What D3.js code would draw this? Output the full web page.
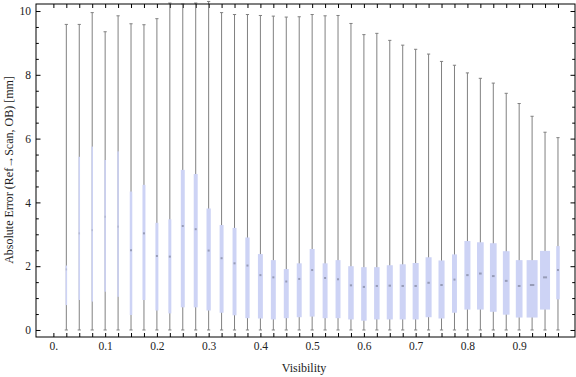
<!DOCTYPE html>
<html>
<head>
<meta charset="utf-8">
<script src="https://cdn.jsdelivr.net/npm/d3@7"></script>
<style>
  html, body { margin: 0; padding: 0; background: #fff; }
  svg { display: block; }
  text { font-family: "Liberation Serif", "Times New Roman", serif; fill: #222; }
</style>
</head>
<body>
<div id="chart"></div>
<script>
/* global d3 */

// visibility bins (box centres)
const visibility = [
  0.025, 0.05, 0.075, 0.1, 0.125, 0.15, 0.175, 0.2, 0.225, 0.25,
  0.275, 0.3, 0.325, 0.35, 0.375, 0.4, 0.425, 0.45, 0.475, 0.5,
  0.525, 0.55, 0.575, 0.6, 0.625, 0.65, 0.675, 0.7, 0.725, 0.75,
  0.775, 0.8, 0.825, 0.85, 0.875, 0.9, 0.925, 0.95, 0.975,
];
const minErr = [
  0, 0, 0, 0, 0, 0, 0, 0, 0, 0,
  0, 0, 0, 0, 0, 0, 0, 0, 0, 0,
  0, 0, 0, 0, 0, 0, 0, 0, 0, 0,
  0, 0, 0, 0, 0, 0, 0, 0, 0,
];
const q1Err = [
  0.78, 0.94, 0.89, 1.2, 1.04, 0.47, 0.94, 0.61, 0.52, 0.71,
  0.71, 0.61, 0.54, 0.46, 0.37, 0.36, 0.33, 0.37, 0.4, 0.42,
  0.37, 0.37, 0.33, 0.29, 0.33, 0.33, 0.33, 0.33, 0.4, 0.36,
  0.54, 0.64, 0.64, 0.57, 0.48, 0.39, 0.39, 0.64, 0.96,
];
const medianErr = [
  1.9, 3.03, 3.13, 3.55, 3.24, 2.5, 3.03, 2.32, 2.3, 3.26,
  3.16, 2.49, 2.25, 2.09, 2.02, 1.72, 1.65, 1.52, 1.6, 1.88,
  1.63, 1.59, 1.4, 1.35, 1.38, 1.39, 1.38, 1.38, 1.48, 1.41,
  1.58, 1.72, 1.77, 1.69, 1.54, 1.38, 1.41, 1.65, 1.88,
];
const q3Err = [
  2.02, 5.43, 5.75, 5.33, 5.6, 4.34, 4.55, 3.36, 3.47, 5.02,
  4.89, 3.81, 3.29, 3.2, 2.9, 2.38, 2.19, 1.91, 2.09, 2.54,
  2.09, 2.19, 2.0, 1.97, 1.97, 2.03, 2.06, 2.1, 2.28, 2.18,
  2.37, 2.79, 2.75, 2.72, 2.47, 2.19, 2.19, 2.48, 2.63,
];
const maxErr = [
  9.58, 9.58, 9.95, 9.35, 9.85, 9.6, 9.57, 9.76, 10.25, 10.22,
  10.25, 10.3, 9.95, 9.89, 9.89, 9.86, 9.84, 9.81, 9.82, 9.89,
  9.85, 9.86, 9.61, 9.26, 9.3, 9.08, 8.93, 8.8, 8.65, 8.42,
  8.3, 8.06, 7.89, 7.74, 7.42, 7.1, 6.7, 6.2, 6.03,
];
// relative box width (sample weight)
const boxWeight = [
  0.14, 0.14, 0.14, 0.14, 0.14, 0.23, 0.27, 0.27, 0.27, 0.36,
  0.36, 0.39, 0.36, 0.36, 0.39, 0.45, 0.45, 0.45, 0.45, 0.45,
  0.45, 0.45, 0.5, 0.5, 0.5, 0.55, 0.55, 0.55, 0.55, 0.55,
  0.45, 0.55, 0.61, 0.61, 0.61, 0.61, 1.0, 0.91, 0.32,
];

const xTicks = visibility.slice();
xTicks.unshift(0);
const xLabelTicks = [0, 0.1, 0.2, 0.3, 0.4, 0.5, 0.6, 0.7, 0.8, 0.9];
const yMajorTicks = [0, 2, 4, 6, 8, 10];
const yMinorTicks = [
  0.5, 1, 1.5, 2.5, 3, 3.5, 4.5, 5, 5.5, 6.5, 7, 7.5, 8.5, 9, 9.5,
];

const width = 576;
const height = 377;
const frame = { left: 36, right: 575, top: 4, bottom: 337 };

const svg = d3.select('#chart').append('svg')
  .attr('width', width)
  .attr('height', height);

const x = d3.scaleLinear()
  .domain([-0.0336, 1.0079])
  .range([frame.left, frame.right]);
const y = d3.scaleLinear()
  .domain([-0.22, 10.22])
  .range([frame.bottom, frame.top]);
const w = d3.scaleLinear()
  .domain([0, 1])
  .range([0, 11]);

const rows = visibility.map((v, i) => ({
  v,
  min: minErr[i],
  q1: q1Err[i],
  med: medianErr[i],
  q3: q3Err[i],
  max: maxErr[i],
  wt: boxWeight[i],
}));

// axes (ticks point inwards)
const fmtX = (d) => {
  if (!xLabelTicks.some(t => Math.abs(t - d) < 1e-9)) return '';
  return d === 0 ? '0.' : d3.format('.1f')(d);
};

const bottom = svg.append('g')
  .attr('transform', `translate(0,${frame.bottom})`)
  .call(d3.axisBottom(x).tickValues(xTicks).tickSize(-4).tickPadding(5).tickFormat(fmtX));
bottom.selectAll('text').attr('font-size', 11.5).attr('dy', '0.71em');

svg.append('g')
  .attr('transform', `translate(0,${frame.top})`)
  .call(d3.axisTop(x).tickValues(xTicks).tickSize(-4).tickFormat(''));

const left = svg.append('g')
  .attr('transform', `translate(${frame.left},0)`)
  .call(d3.axisLeft(y).tickValues(yMajorTicks).tickSize(-4.5).tickPadding(5).tickFormat(d3.format('d')));
left.selectAll('text').attr('font-size', 11.5);
svg.append('g')
  .attr('transform', `translate(${frame.left},0)`)
  .call(d3.axisLeft(y).tickValues(yMinorTicks).tickSize(-2.8).tickFormat(''));

svg.append('g')
  .attr('transform', `translate(${frame.right},0)`)
  .call(d3.axisRight(y).tickValues(yMajorTicks).tickSize(-4.5).tickFormat(''));
svg.append('g')
  .attr('transform', `translate(${frame.right},0)`)
  .call(d3.axisRight(y).tickValues(yMinorTicks).tickSize(-2.8).tickFormat(''));

svg.selectAll('.domain').remove();
svg.selectAll('.tick line').attr('stroke', '#000');
svg.selectAll('.tick text').attr('fill', '#222')
  .style('font-family', '"Liberation Serif", "Times New Roman", serif');

// box-whisker marks
const boxes = svg.append('g').attr('class', 'boxes');

boxes.selectAll('line.whisker')
  .data(rows)
  .enter().append('line')
  .attr('class', 'whisker')
  .attr('x1', d => x(d.v))
  .attr('x2', d => x(d.v))
  .attr('y1', d => y(d.min))
  .attr('y2', d => y(d.max))
  .attr('stroke', '#808080')
  .attr('stroke-width', 1);

['min', 'max'].forEach((k) => {
  boxes.selectAll(`line.cap-${k}`)
    .data(rows)
    .enter().append('line')
    .attr('class', `cap-${k}`)
    .attr('x1', d => x(d.v) - 1.6)
    .attr('x2', d => x(d.v) + 1.6)
    .attr('y1', d => y(d[k]))
    .attr('y2', d => y(d[k]))
    .attr('stroke', '#808080')
    .attr('stroke-width', 1);
});

boxes.selectAll('rect.box')
  .data(rows)
  .enter().append('rect')
  .attr('class', 'box')
  .attr('x', d => x(d.v) - w(d.wt) / 2)
  .attr('width', d => w(d.wt))
  .attr('y', d => y(d.q3))
  .attr('height', d => y(d.q1) - y(d.q3))
  .attr('fill', '#cdd3f5');

// median: faint on the thin boxes, small dash on the wider ones
boxes.selectAll('rect.median')
  .data(rows)
  .enter().append('rect')
  .attr('class', 'median')
  .attr('x', d => x(d.v) - Math.min(w(d.wt), Math.max(2, w(d.wt) * 0.4)) / 2)
  .attr('width', d => Math.min(w(d.wt), Math.max(2, w(d.wt) * 0.4)))
  .attr('y', d => y(d.med) - 1)
  .attr('height', 2)
  .attr('fill', '#8a8ea8')
  .attr('opacity', d => (w(d.wt) < 2 ? 0.35 : 0.8));

// frame
svg.append('rect')
  .attr('x', frame.left)
  .attr('y', frame.top)
  .attr('width', frame.right - frame.left)
  .attr('height', frame.bottom - frame.top)
  .attr('fill', 'none')
  .attr('stroke', '#000')
  .attr('stroke-width', 1);

// axis titles
svg.append('text')
  .attr('x', 304)
  .attr('y', 372)
  .attr('text-anchor', 'middle')
  .attr('font-size', 12)
  .text('Visibility');

svg.append('text')
  .attr('transform', 'translate(13,170) rotate(-90)')
  .attr('text-anchor', 'middle')
  .attr('font-size', 12)
  .text('Absolute Error (Ref\u2192Scan, OB) [mm]');
</script>
</body>
</html>
